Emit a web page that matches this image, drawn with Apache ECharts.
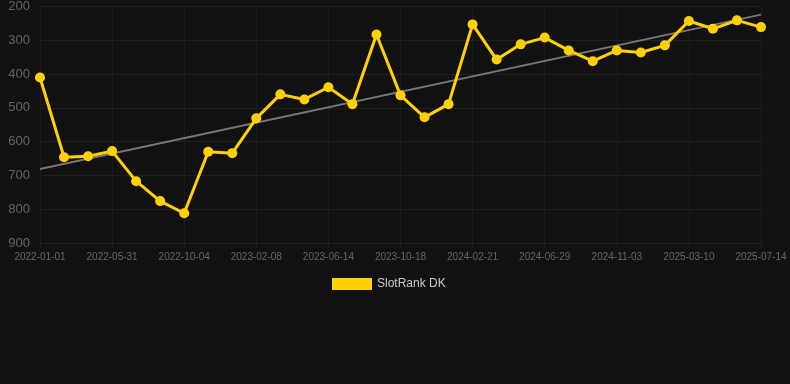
<!DOCTYPE html>
<html>
<head>
<meta charset="utf-8">
<script src="https://cdn.jsdelivr.net/npm/echarts@6/dist/echarts.min.js"></script>
<style>html,body{margin:0;padding:0;background:#111111;}#c{width:790px;height:384px;}</style>
</head>
<body>
<div id="c"></div>
<script>
const categories = ['2022-01-01','2022-02-20','2022-04-11','2022-05-31','2022-07-12','2022-08-23','2022-10-04','2022-11-15','2022-12-27','2023-02-08','2023-03-22','2023-05-03','2023-06-14','2023-07-26','2023-09-06','2023-10-18','2023-11-29','2024-01-10','2024-02-21','2024-04-03','2024-05-16','2024-06-29','2024-08-10','2024-09-21','2024-11-03','2024-12-15','2025-01-27','2025-03-10','2025-04-21','2025-06-02','2025-07-14'];
const rankValues = [410,646,643,628,717,776,812,630,634,531,460,475,439,489,283,463,528,489,253,357,312,292,330,362,330,336,315,243,266,241,261];
const trendValues = [681,null,null,null,null,null,null,null,null,null,null,null,null,null,null,null,null,null,null,null,null,null,null,null,null,null,null,null,null,null,224];
const yTicks = {min:200, max:900, interval:100};

const chart = echarts.init(document.getElementById('c'), null, {renderer:'canvas'});
chart.setOption({
  backgroundColor:'#111111',
  animation:false,
  grid:{left:40, right:29, top:6, bottom:141, containLabel:false},
  legend:{
    data:[{name:'SlotRank DK', icon:'rect'}],
    top:278, left:332, padding:0,
    itemWidth:40, itemHeight:12, itemGap:10,
    textStyle:{color:'#cccccc', fontSize:12, fontFamily:'Liberation Sans, Arial, sans-serif'}
  },
  xAxis:{
    type:'category', data:categories, boundaryGap:false,
    axisLine:{show:true, lineStyle:{color:'#222222'}},
    axisTick:{show:true, interval:2, length:5, lineStyle:{color:'#222222'}},
    axisLabel:{interval:2, color:'#666666', fontSize:10, margin:9, fontFamily:'Liberation Sans, Arial, sans-serif'},
    splitLine:{show:true, interval:2, lineStyle:{color:'#1c1c1c', width:1}}
  },
  yAxis:{
    type:'value', inverse:true, min:yTicks.min, max:yTicks.max, interval:yTicks.interval,
    axisLine:{show:false}, axisTick:{show:false},
    axisLabel:{color:'#666666', fontSize:13, margin:10, fontFamily:'Liberation Sans, Arial, sans-serif'},
    splitLine:{show:true, lineStyle:{color:'#202020', width:1}}
  },
  series:[
    {
      name:'Trend', type:'line', data:trendValues, connectNulls:true,
      symbol:'none', silent:true,
      lineStyle:{color:'#777777', width:2}, z:1
    },
    {
      name:'SlotRank DK', type:'line', data:rankValues,
      symbol:'circle', symbolSize:10,
      itemStyle:{color:'#FFD100'},
      lineStyle:{color:'#FFD100', width:3}, z:2
    }
  ]
});
</script>
</body>
</html>
